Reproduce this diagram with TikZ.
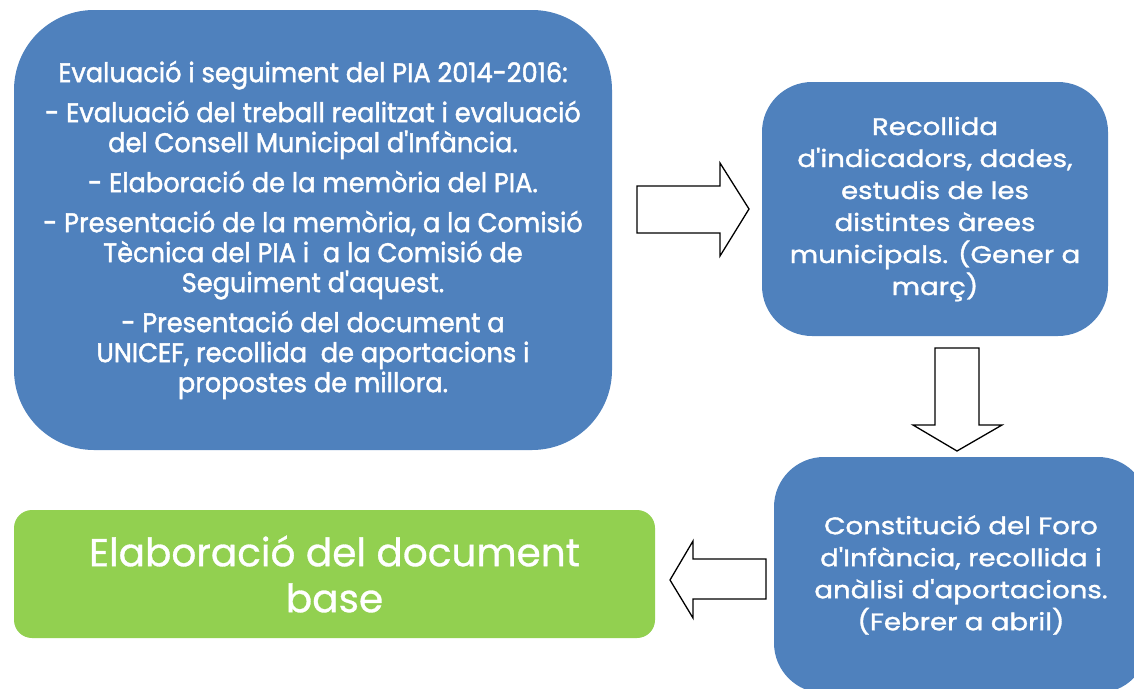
\documentclass[tikz,border=0pt]{standalone}
\usepackage{fontspec}
\setmainfont{Poppins}[Ligatures=TeXOff,FakeBold=0.8]
\newfontfamily\narrowfont{Poppins}[Ligatures=TeXOff,FakeBold=1.6,FakeStretch=0.95]
\newfontfamily\widefont{Poppins}[Ligatures=TeXOff,FakeBold=1.4,FakeStretch=1.15]
\usetikzlibrary{positioning}

\definecolor{stepblue}{HTML}{4F81BD}
\definecolor{stepgreen}{HTML}{92D050}

\begin{document}
\begin{tikzpicture}[x=1pt,y=-1pt]
      \tikzset{
        box/.style={fill=stepblue,text=white,align=center,inner sep=0pt},
        bigarrow/.style={draw=black,fill=white,line width=1.3pt,line join=miter}
      }
      \useasboundingbox (0,0) rectangle (1134,688);

      % boxes
      \node[box,rounded corners=80pt,minimum width=598pt,minimum height=440pt,
            font=\narrowfont\fontsize{27}{30}\selectfont] (eval) at (313,230)
        {Evaluació i seguiment del PIA 2014-2016:\\[10pt]
         - Evaluació del treball realitzat i evaluació\\
         del Consell Municipal d'Infància.\\[10pt]
         - Elaboració de la memòria del PIA.\\[10pt]
         - Presentació de la memòria, a la Comisió\\
         Tècnica del PIA i \ a la Comisió de\\
         Seguiment d'aquest.\\[10pt]
         - Presentació del document a\\
         UNICEF, recollida \ de aportacions i\\
         propostes de millora.};
      \node[box,rounded corners=50pt,minimum width=346pt,minimum height=254pt,
            font=\widefont\fontsize{24}{32}\selectfont] (recull) at (935,209)
        {Recollida\\ d'indicadors, dades,\\ estudis de les\\ distintes àrees\\
         municipals. (Gener a\\ març)};
      \node[box,rounded corners=50pt,minimum width=374pt,minimum height=236pt,
            font=\widefont\fontsize{24}{32}\selectfont] (foro) at (961,575)
        {Constitució del Foro\\ d'Infància, recollida i\\ anàlisi d'aportacions.\\
         (Febrer a abril)};
      \node[box,fill=stepgreen,rounded corners=18pt,minimum width=641pt,minimum height=128pt,
            font=\fontsize{39}{46}\selectfont] (base) at (334.5,574)
        {Elaboració del document\\ base};

      % block arrows
      \draw[bigarrow] (637,186) -- (720,186) -- (720,163) -- (749,209)
        -- (720,256) -- (720,233) -- (637,233) -- cycle;
      \draw[bigarrow] (935,348) -- (979,348) -- (979,425) -- (1002,425) -- (957,451)
        -- (913,425) -- (935,425) -- cycle;
      \draw[bigarrow] (766,559) -- (693,559) -- (693,541) -- (670,580)
        -- (693,618) -- (693,599) -- (766,599) -- cycle;
\end{tikzpicture}
\end{document}
